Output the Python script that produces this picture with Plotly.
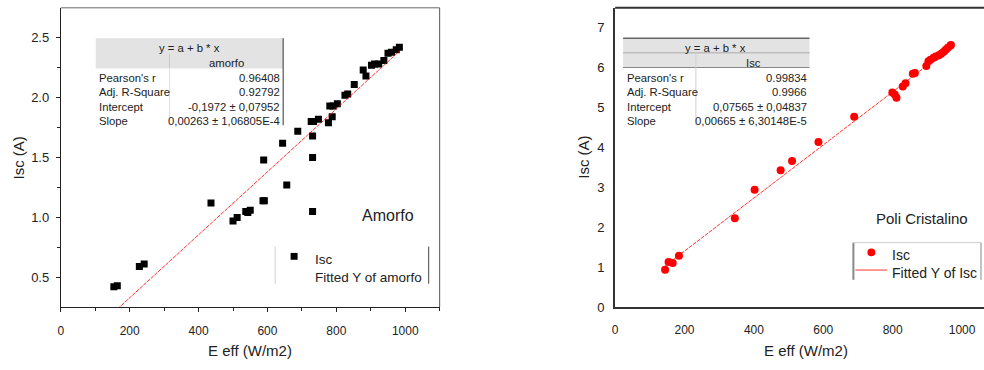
import plotly.graph_objects as go

W, H = 984, 370

# ---------------- data ----------------
amorfo_x = [154, 164, 228, 242, 436, 500, 512, 537, 543, 550, 587, 591, 589, 644, 656, 688,
            731, 731, 731, 727, 734, 748, 777, 788, 781, 791, 803, 825, 833, 852, 878, 886,
            902, 911, 923, 938, 950, 960, 974, 983]
amorfo_y = [0.42, 0.43, 0.59, 0.61, 1.12, 0.97, 1.00, 1.05, 1.04, 1.06, 1.14, 1.14, 1.48, 1.62, 1.27, 1.72,
            1.05, 1.50, 1.68, 1.80, 1.80, 1.82, 1.79, 1.84, 1.93, 1.93, 1.95, 2.02, 2.03, 2.11, 2.23, 2.18,
            2.27, 2.28, 2.28, 2.31, 2.37, 2.38, 2.40, 2.42]

poli_x = [144, 154, 166, 184, 345, 402, 477, 510, 586, 689, 799, 806, 811, 829, 837, 858, 864,
          897, 903, 909, 918, 924, 933, 940, 947, 953, 959, 966, 968]
poli_y = [0.94, 1.13, 1.11, 1.29, 2.23, 2.94, 3.43, 3.66, 4.14, 4.77, 5.38, 5.33, 5.25, 5.53, 5.61, 5.85, 5.87,
          6.04, 6.16, 6.20, 6.25, 6.28, 6.31, 6.35, 6.40, 6.45, 6.50, 6.55, 6.57]

amorfo_intercept, amorfo_slope = -0.1972, 0.00263
poli_intercept, poli_slope = 0.07565, 0.00665

stat_names = ["Pearson's r", "Adj. R-Square", "Intercept", "Slope"]
amorfo_stats = ["0.96408", "0.92792", "-0,1972 ± 0,07952", "0,00263 ± 1,06805E-4"]
poli_stats = ["0.99834", "0.9966", "0,07565 ± 0,04837", "0,00665 ± 6,30148E-5"]

left_legend_names = ["Isc", "Fitted Y of amorfo"]
right_legend_names = ["Isc", "Fitted Y of Isc"]

x_ticks = [0, 200, 400, 600, 800, 1000]
left_y_ticks = [0.5, 1.0, 1.5, 2.0, 2.5]
right_y_ticks = [0, 1, 2, 3, 4, 5, 6, 7]

FONT = "Liberation Sans, Arial, sans-serif"
FIT_LINE = dict(color="rgba(255,0,0,0.8)", width=1, dash="4px,1px")


def px(x):
    return x / W


def py(y):
    return 1 - y / H


fig = go.Figure()

# ---------------- left panel ----------------
fig.add_trace(go.Scatter(
    x=amorfo_x, y=amorfo_y, mode="markers", name=left_legend_names[0],
    marker=dict(symbol="square", size=7, color="black"),
    xaxis="x", yaxis="y", showlegend=False))
fx = [min(amorfo_x), max(amorfo_x)]
fig.add_trace(go.Scatter(
    x=fx, y=[amorfo_intercept + amorfo_slope * v for v in fx], mode="lines",
    name=left_legend_names[1], line=FIT_LINE, showlegend=False,
    xaxis="x", yaxis="y"))

# ---------------- right panel ----------------
fig.add_trace(go.Scatter(
    x=poli_x, y=poli_y, mode="markers", name=right_legend_names[0],
    marker=dict(symbol="circle", size=8, color="#ff0000"),
    xaxis="x2", yaxis="y2", showlegend=False))
gx = [min(poli_x), max(poli_x)]
fig.add_trace(go.Scatter(
    x=gx, y=[poli_intercept + poli_slope * v for v in gx], mode="lines",
    name=right_legend_names[1], line=FIT_LINE,
    xaxis="x2", yaxis="y2", showlegend=False))

tickfont_x = dict(family=FONT, size=12, color="#222")
tickfont_y = dict(family=FONT, size=13, color="#222")

fig.update_layout(
    width=W, height=H,
    margin=dict(l=0, r=0, t=0, b=0),
    paper_bgcolor="white", plot_bgcolor="white",
    font=dict(family=FONT, color="#222"),
    showlegend=False,
    xaxis=dict(domain=[px(58), px(438)], range=[0, 1100], tickvals=x_ticks,
               showgrid=False, zeroline=False, showline=True, linecolor="#222", linewidth=1,
               ticks="outside", ticklen=4, tickcolor="#222", tickfont=tickfont_x,
               ticklabelstandoff=8,
               minor=dict(tickvals=[100, 300, 500, 700, 900, 1100], ticks="outside", ticklen=3, tickcolor="#222"),
               anchor="y"),
    yaxis=dict(domain=[py(314), py(8)], range=[0.25, 2.75], tickvals=left_y_ticks,
               tickformat=".1f",
               showgrid=False, zeroline=False, showline=True, linecolor="#222", linewidth=1,
               ticks="outside", ticklen=4, tickcolor="#222", tickfont=tickfont_y,
               ticklabelstandoff=4,
               minor=dict(tickvals=[0.75, 1.25, 1.75, 2.25], ticks="outside", ticklen=3, tickcolor="#222"),
               anchor="x"),
    xaxis2=dict(domain=[px(614), 1.0], range=[0, 370 / 0.348], tickvals=x_ticks,
                showgrid=False, zeroline=False, showline=True, linecolor="#333", linewidth=2,
                ticks="", tickfont=tickfont_x, ticklabelstandoff=10, anchor="y2"),
    yaxis2=dict(domain=[py(314), py(8)], range=[0, 7.5], tickvals=right_y_ticks,
                showgrid=False, zeroline=False, showline=True, linecolor="#333", linewidth=2,
                ticks="", tickfont=tickfont_y, ticklabelstandoff=6, anchor="x2"),
)

shapes = []
annotations = []


def pline(x0, y0, x1, y1, color, width=1, dash=None):
    ln = dict(color=color, width=width)
    if dash:
        ln["dash"] = dash
    shapes.append(dict(type="line", xref="paper", yref="paper",
                       x0=px(x0), y0=py(y0), x1=px(x1), y1=py(y1), line=ln))


def prect(x0, y0, x1, y1, fill, layer="below"):
    shapes.append(dict(type="rect", xref="paper", yref="paper",
                       x0=px(x0), y0=py(y0), x1=px(x1), y1=py(y1),
                       fillcolor=fill, line=dict(width=0), layer=layer))


def pcircle(cx, cy, r, fill):
    shapes.append(dict(type="circle", xref="paper", yref="paper",
                       x0=px(cx - r), y0=py(cy + r), x1=px(cx + r), y1=py(cy - r),
                       fillcolor=fill, line=dict(width=0), layer="above"))


def ptext(x, y, text, size, anchor="left", angle=0, color="#222"):
    # shift so that the visual centre of the glyphs lands on (x, y)
    if angle == 0:
        y = y + 0.22 * size
    annotations.append(dict(xref="paper", yref="paper", x=px(x), y=py(y), text=text,
                            showarrow=False, xanchor=anchor, yanchor="middle", textangle=angle,
                            font=dict(family=FONT, size=size, color=color)))


# frames
pline(58, 8, 438, 8, "#666", 1)      # left top border
pline(438, 8, 438, 314, "#555", 1)   # left right border
pline(614, 8, 984, 8, "#333", 2)     # right top border

# left table
prect(93, 39, 281, 70, "#e3e3e3")
pline(167, 55, 167, 70, "#c8c8c8", 1)
pline(167, 70, 167, 128, "#e0e0e0", 1)
pline(281, 39, 281, 128, "#333", 1)
ptext(187, 47, "y = a + b * x", 11.3, "center")
ptext(224, 62, "amorfo", 11.3, "center")
for i, (n, v) in enumerate(zip(stat_names, amorfo_stats)):
    yy = 77 + i * 14.7
    ptext(94, yy, n, 11.3, "left")
    ptext(280, yy, v, 11.3, "right")

# right table
prect(622, 39, 809, 69, "#e3e3e3")
pline(622, 39, 809, 39, "#666", 1.5)
pline(622, 54, 809, 54, "#aaa", 1)
pline(622, 69, 809, 69, "#888", 1)
pline(695, 54, 695, 128, "#d0d0d0", 1)
ptext(715, 47, "y = a + b * x", 11.3, "center")
ptext(753, 62, "Isc", 11.3, "center")
for i, (n, v) in enumerate(zip(stat_names, poli_stats)):
    yy = 77 + i * 14.7
    ptext(624, yy, n, 11.3, "left")
    ptext(808, yy, v, 11.3, "right")

# left legend
pline(273, 252, 273, 290, "#cfcfcf", 1)
pline(427, 252, 427, 290, "#444", 1)
prect(288.5, 258.5, 295.5, 265.5, "black", layer="above")
ptext(311, 262, left_legend_names[0], 13.5, "left")
ptext(311, 281, left_legend_names[1], 13.5, "left")

# right legend
pline(853, 248, 853, 286, "#888", 2)
pline(853, 248, 981, 248, "#ccc", 1)
pline(981, 248, 981, 286, "#888", 1)
pcircle(871, 258, 4, "#ff0000")
pline(855, 276, 887, 276, "rgba(255,0,0,0.8)", 1)
ptext(890, 258, right_legend_names[0], 14, "left")
ptext(890, 276, right_legend_names[1], 14, "left")

# panel labels
ptext(386, 217, "Amorfo", 16, "center")
ptext(922, 220, "Poli Cristalino", 15, "center")

# axis titles
ptext(16, 161, "Isc (A)", 15, "center", angle=-90)
ptext(582, 161, "Isc (A)", 15, "center", angle=-90)
ptext(248, 355, "E eff (W/m2)", 15, "center")
ptext(805, 355, "E eff (W/m2)", 15, "center")

fig.update_layout(shapes=shapes, annotations=annotations)

fig.write_html("out.html")
